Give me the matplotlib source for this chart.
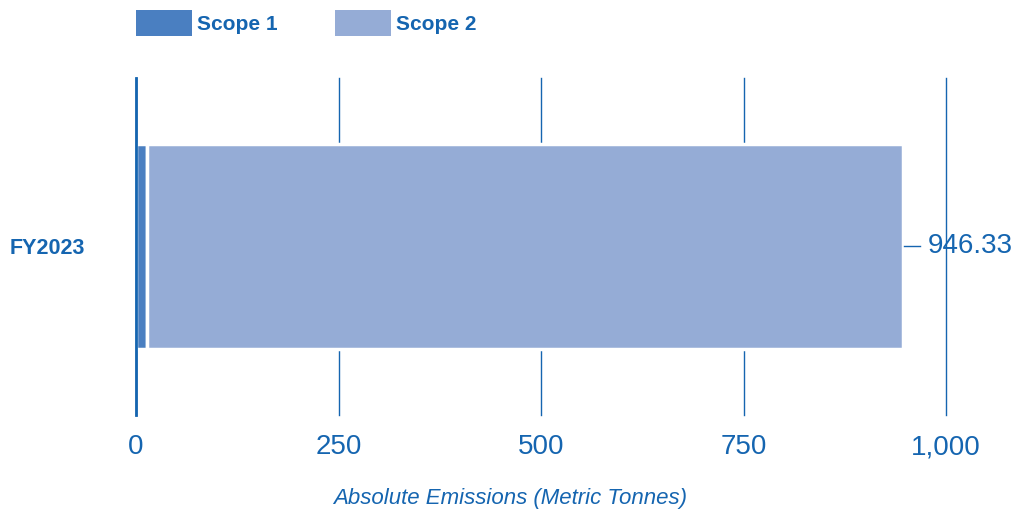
import matplotlib.pyplot as plt
from matplotlib.patches import Rectangle

# emissions for the year, metric tonnes
years = ["FY2023"]
scope1 = [14.1]
scope2 = [932.23]
series_names = ["Scope 1", "Scope 2"]
colors = ["#4a7fc1", "#95acd6"]
ticks = [0, 250, 500, 750, 1000]
tick_labels = ["0", "250", "500", "750", "1,000"]

blue = "#1565b0"
plt.rcParams['font.family'] = ['Liberation Sans', 'DejaVu Sans']

fig = plt.figure(figsize=(10.16, 5.13), dpi=100)
ax = fig.add_axes([0.1339, 0.191, 0.7972, 0.657])

ax.barh(years, scope1, height=1.0, color=colors[0], edgecolor="white", linewidth=2.5, zorder=3)
ax.barh(years, scope2, left=scope1, height=1.0, color=colors[1], edgecolor="white", linewidth=2.5, zorder=3)

# total label with a short leader line
total = scope1[0] + scope2[0]
ax.plot([total + 2, total + 22], [0, 0], color=blue, lw=1, clip_on=False, zorder=4)
ax.text(total + 31, 0, f"{total:,.2f}", fontsize=20, color=blue, va="center", ha="left")

ax.set_xlim(0, 1000)
ax.set_ylim(-0.825, 0.825)
ax.set_xticks(ticks)
ax.set_xticklabels(tick_labels, fontsize=20, color=blue)
ax.tick_params(axis="x", length=0, pad=14)
ax.tick_params(axis="y", length=0, pad=91)
for lab in ax.get_yticklabels():
    lab.set_fontsize(15.5)
    lab.set_fontweight("bold")
    lab.set_color(blue)
    lab.set_horizontalalignment("left")

ax.grid(axis="x", color=blue, linewidth=1, zorder=0)
for line in ax.get_xgridlines():
    line.set_clip_on(False)
for s in ["top", "right", "bottom"]:
    ax.spines[s].set_visible(False)
ax.spines["left"].set_color(blue)
ax.spines["left"].set_linewidth(2)
ax.spines["left"].set_zorder(4)

fig.text(510 / 1016, 0.028, "Absolute Emissions (Metric Tonnes)", fontsize=16,
         style="italic", color=blue, ha="center", va="center")

# legend drawn as boxes across the top
legend_x = [0.1339, 0.3297]
for x, name, c in zip(legend_x, series_names, colors):
    fig.patches.append(Rectangle((x, 0.93), 0.0551, 0.0507, transform=fig.transFigure,
                                 facecolor=c, edgecolor="none"))
    fig.text(x + 0.0600, 0.953, name, fontsize=15, fontweight="bold", color=blue, va="center")

fig.savefig("out.png", dpi=100)
